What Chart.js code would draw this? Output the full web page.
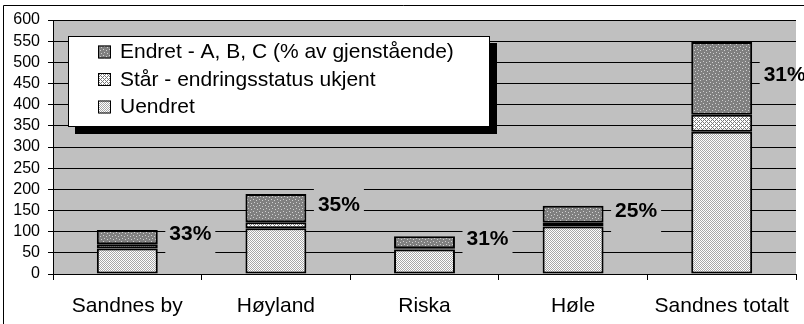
<!DOCTYPE html>
<html>
<head>
<meta charset="utf-8">
<script src="https://cdn.jsdelivr.net/npm/chart.js@4/dist/chart.umd.min.js"></script>
<style>
  html, body { margin: 0; padding: 0; background: #fff; }
  #wrap { width: 804px; height: 324px; }
</style>
</head>
<body>
<div id="wrap"><canvas id="canvas" width="804" height="324"></canvas></div>
<script>
var categories = ['Sandnes by', 'Høyland', 'Riska', 'Høle', 'Sandnes totalt'];
var uendret = [60, 108, 58, 112, 336];
var staar = [10, 14, 3, 9, 40];
var endret = [34, 67, 28, 40, 172];
var seriesNames = ['Uendret', 'Står - endringsstatus ukjent', 'Endret - A, B, C (% av gjenstående)'];

// small bitmap fills in the style of old office charts
function makePattern(size, base, dots, dotColor) {
    var c = document.createElement('canvas');
    c.width = size; c.height = size;
    var g = c.getContext('2d');
    g.fillStyle = base;
    g.fillRect(0, 0, size, size);
    g.fillStyle = dotColor;
    dots.forEach(function (d) { g.fillRect(d[0], d[1], 1, 1); });
    return g.createPattern(c, 'repeat');
}
var ctx = document.getElementById('canvas').getContext('2d');
var fillUendret = makePattern(2, '#ffffff', [[0, 0], [1, 1]], '#a8a8a8');
var fillStaar = makePattern(4, '#ffffff', [[3, 0], [2, 1], [1, 2], [0, 3], [1, 0], [3, 2]], '#7a7a7a');
var fillEndret = makePattern(6, '#808080', [[1, 1], [4, 2], [2, 4], [5, 5]], '#d0d0d0');

var frame = {
    id: 'frame',
    beforeDraw: function (chart) {
        var a = chart.chartArea, c = chart.ctx;
        c.save();
        c.fillStyle = '#c0c0c0';
        c.fillRect(a.left, a.top, a.right - a.left, a.bottom - a.top);
        c.strokeStyle = '#000';
        c.lineWidth = 1;
        c.beginPath();
        c.moveTo(3.5, 324); c.lineTo(3.5, 5.5); c.lineTo(804, 5.5);
        c.stroke();
        c.restore();
    }
};

var pctLabels = {
    id: 'pctLabels',
    afterDatasetsDraw: function (chart) {
        var c = chart.ctx, a = chart.chartArea;
        var meta = chart.getDatasetMeta(2);
        c.save();
        c.font = 'bold 21px "Liberation Sans", Arial, sans-serif';
        c.textAlign = 'center';
        c.textBaseline = 'middle';
        meta.data.forEach(function (bar, i) {
            var total = uendret[i] + staar[i] + endret[i];
            var pct = Math.round(endret[i] / total * 100) + '%';
            var cx = bar.x + 63;
            var cy = (bar.y + bar.base) / 2 - 3;
            // label background hides the grid, but stays inside the plot
            var bx = cx - 25, bw = Math.min(50, a.right - bx);
            c.fillStyle = '#c0c0c0';
            c.fillRect(bx, cy - 17, bw, 39);
            c.fillStyle = '#000';
            c.fillText(pct, cx, cy);
        });
        c.restore();
    }
};

var boxLegend = {
    id: 'boxLegend',
    afterDraw: function (chart) {
        var c = chart.ctx;
        var x = 68, y = 36, w = 422, h = 91;
        c.save();
        c.fillStyle = '#000';
        c.fillRect(x + 7, y + 7, w, h);
        c.fillStyle = '#fff';
        c.fillRect(x, y, w, h);
        c.strokeStyle = '#000';
        c.lineWidth = 1;
        c.strokeRect(x + 0.5, y + 0.5, w - 1, h - 1);
        c.font = '21px "Liberation Sans", Arial, sans-serif';
        c.textBaseline = 'middle';
        var ds = chart.data.datasets.slice().reverse();
        ds.forEach(function (d, i) {
            var ry = 51.5 + i * 27.5;
            c.fillStyle = d.backgroundColor;
            c.fillRect(98, ry - 6, 13, 13);
            c.strokeRect(98.5, ry - 5.5, 12, 12);
            c.fillStyle = '#000';
            c.fillText(d.label, 120, ry + 1);
        });
        c.restore();
    }
};

window.onload = function () {
    new Chart(ctx, {
        type: 'bar',
        data: {
            labels: categories,
            datasets: [{
                label: seriesNames[0],
                data: uendret,
                backgroundColor: fillUendret
            }, {
                label: seriesNames[1],
                data: staar,
                backgroundColor: fillStaar
            }, {
                label: seriesNames[2],
                data: endret,
                backgroundColor: fillEndret
            }]
        },
        options: {
            responsive: false,
            animation: false,
            layout: { padding: { left: 0, top: 20, right: 8, bottom: 0 } },
            datasets: {
                bar: {
                    borderColor: '#000',
                    borderWidth: 2,
                    borderSkipped: false,
                    categoryPercentage: 1,
                    barPercentage: 0.41
                }
            },
            plugins: {
                legend: { display: false },
                tooltip: { enabled: false }
            },
            scales: {
                x: {
                    stacked: true,
                    afterFit: function (s) { s.height = 50; },
                    grid: { drawOnChartArea: false, tickLength: 6, tickColor: '#000' },
                    border: { color: '#000', width: 1 },
                    ticks: {
                        color: '#000',
                        padding: 14,
                        font: { family: '"Liberation Sans", Arial, sans-serif', size: 21 }
                    }
                },
                y: {
                    stacked: true,
                    min: 0,
                    max: 600,
                    afterFit: function (s) { s.width = 53; },
                    grid: { color: '#000', lineWidth: 1, drawOnChartArea: true, tickLength: 5, tickColor: '#000' },
                    border: { color: '#000', width: 1 },
                    ticks: {
                        stepSize: 50,
                        autoSkip: false,
                        color: '#000',
                        padding: 8,
                        font: { family: '"Liberation Sans", Arial, sans-serif', size: 16 }
                    }
                }
            }
        },
        plugins: [frame, pctLabels, boxLegend]
    });
};
</script>
</body>
</html>
